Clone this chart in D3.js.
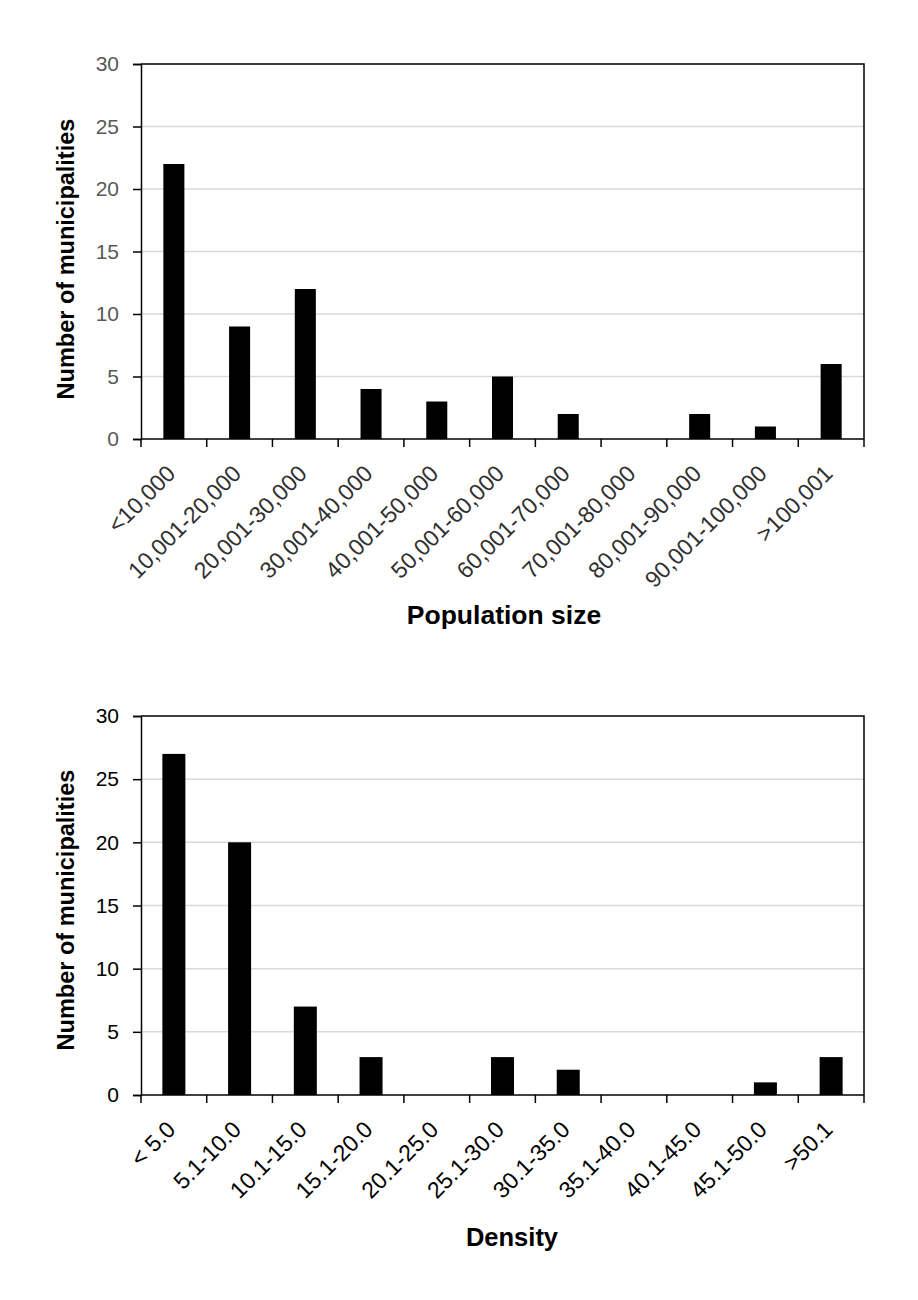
<!DOCTYPE html>
<html>
<head>
<meta charset="utf-8">
<script src="https://cdn.jsdelivr.net/npm/d3@7"></script>
<style>
  body { margin: 0; background: #fff; }
  svg { display: block; font-family: "Liberation Sans", Arial, sans-serif; }
</style>
</head>
<body>
<svg id="chart" width="918" height="1300"></svg>
<script>
// population size classes
const popCategories = ["<10,000", "10,001-20,000", "20,001-30,000", "30,001-40,000", "40,001-50,000",
  "50,001-60,000", "60,001-70,000", "70,001-80,000", "80,001-90,000", "90,001-100,000", ">100,001"];
const popValues = [22, 9, 12, 4, 3, 5, 2, 0, 2, 1, 6];

// density classes
const densCategories = ["< 5.0", "5.1-10.0", "10.1-15.0", "15.1-20.0", "20.1-25.0", "25.1-30.0",
  "30.1-35.0", "35.1-40.0", "40.1-45.0", "45.1-50.0", ">50.1"];
const densValues = [27, 20, 7, 3, 0, 3, 2, 0, 0, 1, 3];

const yTicks = [0, 5, 10, 15, 20, 25, 30];

const svg = d3.select("#chart");

function drawChart(opts) {
  const left = 141, right = 864;
  const top = opts.top, bottom = opts.bottom;

  const x = d3.scaleBand()
    .domain(opts.categories)
    .range([left, right])
    .paddingInner(0)
    .paddingOuter(0);

  const y = d3.scaleLinear()
    .domain([0, 30])
    .range([bottom, top]);

  const g = svg.append("g");

  // gridlines
  g.selectAll("line.grid")
    .data(yTicks.filter(d => d > 0 && d < 30))
    .join("line")
    .attr("class", "grid")
    .attr("x1", left).attr("x2", right)
    .attr("y1", d => y(d)).attr("y2", d => y(d))
    .attr("stroke", "#d9d9d9")
    .attr("stroke-width", 1.5);

  // bars
  const bw = x.bandwidth() * opts.barFrac;
  g.selectAll("rect.bar")
    .data(opts.values)
    .join("rect")
    .attr("class", "bar")
    .attr("x", (d, i) => x(opts.categories[i]) + (x.bandwidth() - bw) / 2)
    .attr("width", bw)
    .attr("y", d => y(d))
    .attr("height", d => bottom - y(d))
    .attr("fill", "#000");

  // box: top and right edges
  g.append("path")
    .attr("d", `M${left},${top}H${right}V${bottom}`)
    .attr("fill", "none")
    .attr("stroke", "#000")
    .attr("stroke-width", 1.5);

  // y axis
  const yAxis = g.append("g")
    .attr("transform", `translate(${left},0)`)
    .call(d3.axisLeft(y).tickValues(yTicks).tickSize(8).tickPadding(14));
  yAxis.select(".domain").attr("stroke-width", 1.5);
  yAxis.selectAll(".tick line").attr("stroke-width", 1.5);
  yAxis.selectAll(".tick text")
    .attr("font-size", 21)
    .attr("fill", opts.yLabelColor);

  // x axis: ticks at category boundaries
  const bounds = opts.categories.map(c => x(c)).concat([right]);
  g.append("line")
    .attr("x1", left).attr("x2", right)
    .attr("y1", bottom).attr("y2", bottom)
    .attr("stroke", "#000")
    .attr("stroke-width", 1.5);
  g.selectAll("line.xtick")
    .data(bounds)
    .join("line")
    .attr("class", "xtick")
    .attr("x1", d => d).attr("x2", d => d)
    .attr("y1", bottom).attr("y2", bottom + 8)
    .attr("stroke", "#000")
    .attr("stroke-width", 1.5);

  g.selectAll("text.xlabel")
    .data(opts.categories)
    .join("text")
    .attr("class", "xlabel")
    .attr("transform", d => `translate(${x(d) + x.bandwidth() / 2 + 3},${bottom + 36}) rotate(-45)`)
    .attr("text-anchor", "end")
    .attr("font-size", 23)
    .attr("fill", opts.xLabelColor)
    .text(d => d);

  // titles
  g.append("text")
    .attr("transform", `translate(74,${opts.yTitleY}) rotate(-90)`)
    .attr("text-anchor", "middle")
    .attr("font-size", 23.5)
    .attr("font-weight", "bold")
    .text("Number of municipalities");

  g.append("text")
    .attr("x", opts.xTitleX)
    .attr("y", opts.xTitleY)
    .attr("text-anchor", "middle")
    .attr("font-size", opts.xTitleSize)
    .attr("font-weight", "bold")
    .text(opts.xTitle);
}

drawChart({
  categories: popCategories,
  values: popValues,
  top: 64, bottom: 439,
  barFrac: 0.32,
  yLabelColor: "#595959",
  xLabelColor: "#303030",
  yTitleY: 259,
  xTitle: "Population size",
  xTitleSize: 26.5,
  xTitleX: 504, xTitleY: 624
});

drawChart({
  categories: densCategories,
  values: densValues,
  top: 716, bottom: 1095,
  barFrac: 0.35,
  yLabelColor: "#000",
  xLabelColor: "#000",
  yTitleY: 910,
  xTitle: "Density",
  xTitleSize: 25.5,
  xTitleX: 512, xTitleY: 1246
});
</script>
</body>
</html>
